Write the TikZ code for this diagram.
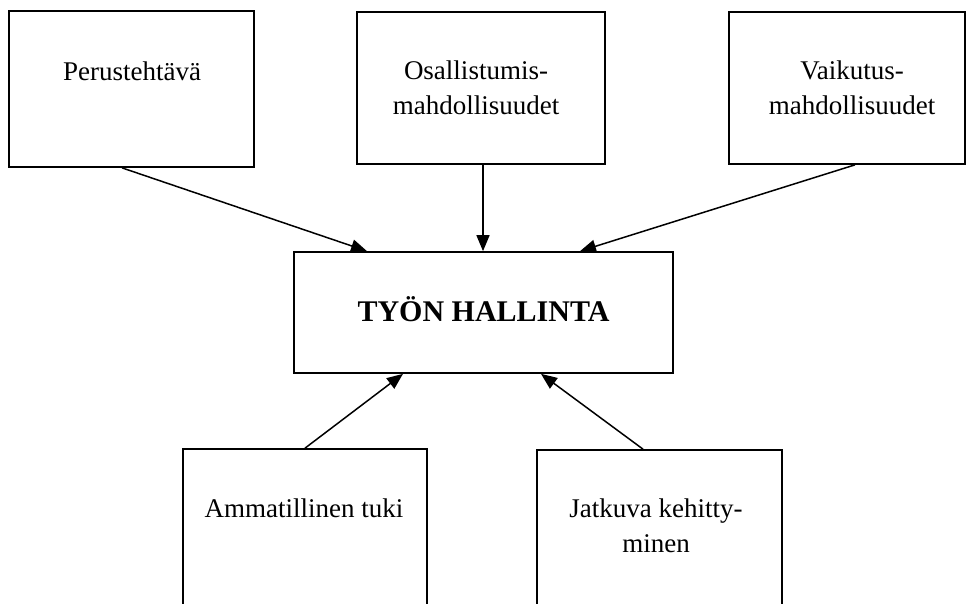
\documentclass[tikz,border=0pt]{standalone}
\usepackage{fontspec}
\setmainfont{Liberation Serif}
\usetikzlibrary{arrows.meta,calc}

\begin{document}
\begin{tikzpicture}[x=1pt,y=-1pt,
  box/.style={draw=black, line width=1.7pt, rectangle, inner sep=0pt},
  lbl/.style={font=\fontsize{27}{35}\selectfont, align=center, inner sep=0pt},
  conn/.style={line width=1.5pt, -{Triangle[length=16pt,width=13pt]}}]
  \useasboundingbox (0,0) rectangle (966,603);
  \clip (0,0) rectangle (966,603);

  % upper row
  \node[box, minimum width=245pt, minimum height=156pt] (perus) at (131.5,89) {};
  \node[box, minimum width=248pt, minimum height=152pt] (osall) at (481,88) {};
  \node[box, minimum width=236pt, minimum height=152pt] (vaik) at (847,88) {};
  \node[lbl] (tperus) at (132,71) {Perustehtävä};
  \node[lbl] (tosall) at (476,88) {Osallistumis-\\mahdollisuudet};
  \node[lbl] (tvaik) at (852,88) {Vaikutus-\\mahdollisuudet};

  % centre
  \node[box, minimum width=379pt, minimum height=121pt] (hall) at (483.5,312.5) {};
  \node[lbl, font=\fontsize{30}{36}\selectfont\bfseries] (thall) at (483.5,309) {TYÖN HALLINTA};

  % lower row, running past the bottom edge
  \node[box, minimum width=244pt, minimum height=180pt] (amm) at (305,539) {};
  \node[box, minimum width=245pt, minimum height=180pt] (jatk) at (659.5,540) {};
  \node[lbl] (tamm) at (304,508) {Ammatillinen tuki};
  \node[lbl] (tjatk) at (656,526) {Jatkuva kehitty-\\minen};

  % connectors
  \draw[conn] ([xshift=-9.5pt]perus.south) -- ([xshift=-116.5pt]hall.north);
  \draw[conn] ([xshift=2pt]osall.south) -- ([xshift=-0.5pt]hall.north);
  \draw[conn] ([xshift=8pt]vaik.south) -- ([xshift=96.5pt]hall.north);
  \draw[conn] (amm.north) -- ([xshift=-80.5pt]hall.south);
  \draw[conn] ([xshift=-16.5pt]jatk.north) -- ([xshift=57.5pt]hall.south);
\end{tikzpicture}
\end{document}
